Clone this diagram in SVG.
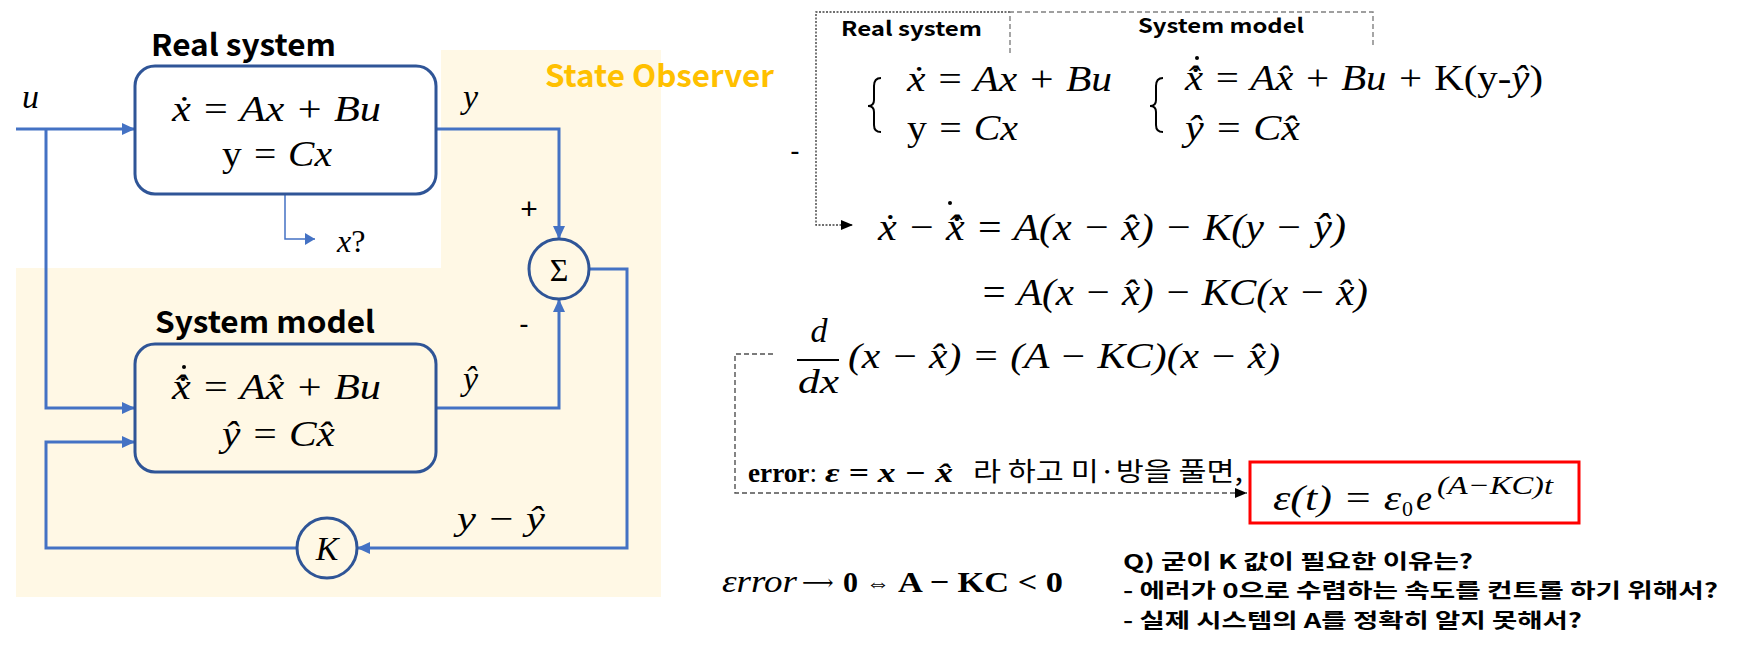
<svg xmlns="http://www.w3.org/2000/svg" width="1742" height="653" viewBox="0 0 1742 653">
<style>
.m{font-family:"Liberation Serif","DejaVu Serif",serif;font-style:italic;fill:#000}
.r{font-style:normal}
.b{font-weight:bold}
.t{font-family:"Noto Sans CJK KR","Liberation Sans",sans-serif;font-weight:bold;fill:#000}
.k{font-family:"Noto Sans CJK KR","Liberation Sans",sans-serif;fill:#000}
.s{font-family:"Liberation Sans","Noto Sans CJK KR",sans-serif;fill:#000}
.conn{stroke:#4472C4;stroke-width:3;fill:none}
.thin{stroke:#4472C4;stroke-width:1.5;fill:none}
.node{stroke:#2F5597;stroke-width:3;fill:none}
.dot{stroke:#404040;stroke-width:1.4;fill:none;stroke-dasharray:2 1.5}
.dash{stroke:#808080;stroke-width:1.4;fill:none;stroke-dasharray:5 3}
.dash2{stroke:#505050;stroke-width:1.4;fill:none;stroke-dasharray:5 3}
.brace{stroke:#000;stroke-width:2;fill:none}
</style>
<defs>
<marker id="ab" markerUnits="userSpaceOnUse" markerWidth="13" markerHeight="12" refX="13" refY="6" orient="auto"><path d="M0,0 L13,6 L0,12 Z" fill="#4472C4"/></marker>
<marker id="abs" markerUnits="userSpaceOnUse" markerWidth="10" markerHeight="12" refX="10" refY="6" orient="auto"><path d="M0,0 L10,6 L0,12 Z" fill="#4472C4"/></marker>
<marker id="ak" markerUnits="userSpaceOnUse" markerWidth="12" markerHeight="12" refX="12" refY="6" orient="auto"><path d="M0,1 L12,6 L0,11 Z" fill="#000"/></marker>
</defs>
<rect width="1742" height="653" fill="#fff"/>
<g id="observer-bg">
<rect x="441" y="50" width="220" height="218" fill="#FFF8E5"/>
<rect x="16" y="268" width="645" height="329" fill="#FFF8E5"/>
<text class="t" x="545" y="87" font-size="31" style="fill:#FFC000" textLength="229" lengthAdjust="spacingAndGlyphs">State Observer</text>
</g>
<g id="connectors">
<path class="conn" d="M16,129 H135" marker-end="url(#ab)"/>
<path class="conn" d="M46,129 V408 H135" marker-end="url(#ab)"/>
<path class="conn" d="M436,129 H559 V239" marker-end="url(#ab)"/>
<path class="conn" d="M436,408 H559 V299" marker-end="url(#ab)"/>
<path class="conn" d="M589,269 H627 V548 H357" marker-end="url(#ab)"/>
<path class="conn" d="M297,548 H46 V442 H135" marker-end="url(#ab)"/>
<path class="thin" d="M285,194 V239 H315" marker-end="url(#abs)"/>
</g>
<g id="real-system">
<text class="t" x="151" y="56" font-size="30" textLength="185" lengthAdjust="spacingAndGlyphs">Real system</text>
<rect class="node" x="135" y="66" width="301" height="128" rx="20"/>
<text class="m" x="172" y="121" font-size="36" textLength="209" lengthAdjust="spacingAndGlyphs">x&#x307; = Ax + Bu</text>
<text class="m" x="222" y="166" font-size="36" textLength="110" lengthAdjust="spacingAndGlyphs"><tspan class="r">y</tspan> = Cx</text>
</g>
<g id="system-model">
<text class="t" x="155" y="333" font-size="30" textLength="220" lengthAdjust="spacingAndGlyphs">System model</text>
<rect class="node" x="135" y="344" width="301" height="128" rx="20"/>
<text class="m" x="172" y="399" font-size="36" textLength="209" lengthAdjust="spacingAndGlyphs">x&#x302;&#x307; = Ax&#x302; + Bu</text>
<circle cx="184" cy="367" r="2" fill="#000"/>
<text class="m" x="222" y="446" font-size="36" textLength="113" lengthAdjust="spacingAndGlyphs">&#x177; = Cx&#x302;</text>
</g>
<g id="sum">
<circle class="node" cx="559" cy="269" r="30"/>
<text class="m r" x="559" y="281" font-size="32" text-anchor="middle">Σ</text>
</g>
<g id="gain-k">
<circle class="node" cx="327" cy="548" r="30"/>
<text class="m" x="327" y="560" font-size="34" text-anchor="middle">K</text>
</g>
<g id="left-labels">
<text class="m" x="22" y="108" font-size="34">u</text>
<text class="m" x="463" y="108" font-size="34">y</text>
<text class="s" x="529" y="219" font-size="30" text-anchor="middle">+</text>
<text class="s" x="524" y="333" font-size="28" text-anchor="middle">-</text>
<text class="m" x="337" y="252" font-size="32">x<tspan class="r">?</tspan></text>
<text class="m" x="463" y="390" font-size="34">&#x177;</text>
<text class="m" x="457" y="530" font-size="34" textLength="88" lengthAdjust="spacingAndGlyphs">y − &#x177;</text>
</g>
<g id="derivation">
<path class="dot" d="M1010,12 H816 V225 H853" marker-end="url(#ak)"/>
<path class="dash" d="M1010,53 V12 H1373 V48"/>
<text class="t" x="841" y="36" font-size="20" textLength="141" lengthAdjust="spacingAndGlyphs">Real system</text>
<text class="t" x="1138" y="33" font-size="20" textLength="166" lengthAdjust="spacingAndGlyphs">System model</text>
<path class="brace" d="M881,78 Q874,78 874,86 V100 Q874,106 868,106 Q874,106 874,112 V125 Q874,132 881,132"/>
<path class="brace" d="M1163,78 Q1156,78 1156,86 V100 Q1156,106 1150,106 Q1156,106 1156,112 V125 Q1156,132 1163,132"/>
<text class="m" x="907" y="91" font-size="36" textLength="205" lengthAdjust="spacingAndGlyphs">x&#x307; = Ax + Bu</text>
<text class="m" x="907" y="140" font-size="36" textLength="111" lengthAdjust="spacingAndGlyphs"><tspan class="r">y</tspan> = Cx</text>
<text class="m" x="1185" y="90" font-size="36" textLength="358" lengthAdjust="spacingAndGlyphs">x&#x302;&#x307; = Ax&#x302; + Bu + <tspan class="r">K(y-</tspan>&#x177;<tspan class="r">)</tspan></text>
<circle cx="1197" cy="58" r="2" fill="#000"/>
<text class="m" x="1185" y="140" font-size="36" textLength="115" lengthAdjust="spacingAndGlyphs">&#x177; = Cx&#x302;</text>
<text class="s" x="795" y="160" font-size="28" text-anchor="middle">-</text>
<text class="m" x="878" y="240" font-size="38" textLength="468" lengthAdjust="spacingAndGlyphs">x&#x307; − x&#x302;&#x307; = A(x − x&#x302;) − K(y − &#x177;)</text>
<circle cx="950" cy="203" r="2" fill="#000"/>
<text class="m" x="980" y="305" font-size="38" textLength="388" lengthAdjust="spacingAndGlyphs">= A(x − x&#x302;) − KC(x − x&#x302;)</text>
<text class="m" x="819" y="342" font-size="34" text-anchor="middle">d</text>
<line x1="797" y1="360" x2="839" y2="360" stroke="#000" stroke-width="2"/>
<text class="m" x="798" y="393" font-size="34" textLength="41" lengthAdjust="spacingAndGlyphs">dx</text>
<text class="m" x="848" y="368" font-size="36" textLength="432" lengthAdjust="spacingAndGlyphs">(x − x&#x302;) = (A − KC)(x − x&#x302;)</text>
<path class="dash2" d="M773,354 H735 V493 H1247" marker-end="url(#ak)"/>
<text class="m r b" x="748" y="482" font-size="28" textLength="69" lengthAdjust="spacingAndGlyphs">error<tspan font-weight="normal">:</tspan></text>
<text class="m b" x="825" y="482" font-size="28" textLength="128" lengthAdjust="spacingAndGlyphs">ε = x − x&#x302;</text>
<text class="k" x="973" y="481" font-size="26" textLength="270" lengthAdjust="spacingAndGlyphs">라 하고 미·방을 풀면,</text>
</g>
<g id="result">
<rect x="1250" y="462" width="329" height="61" fill="#fff" stroke="#FF0000" stroke-width="3"/>
<text class="m" x="1273" y="510" font-size="36" textLength="128" lengthAdjust="spacingAndGlyphs">ε(t) = ε</text>
<text class="m r" x="1402" y="516" font-size="22">0</text>
<text class="m" x="1416" y="510" font-size="36">e</text>
<text class="m" x="1437" y="494" font-size="26" textLength="116" lengthAdjust="spacingAndGlyphs">(A−KC)t</text>
</g>
<g id="condition">
<text class="m" x="722" y="592" font-size="32" textLength="75" lengthAdjust="spacingAndGlyphs">εrror</text>
<text class="m r" x="802" y="590" font-size="22">⟶<tspan class="b" x="843" y="592" font-size="30">0</tspan><tspan x="866" y="591" font-size="24">⇔</tspan></text>
<text class="m r b" x="898" y="592" font-size="30" textLength="165" lengthAdjust="spacingAndGlyphs">A − KC &lt; 0</text>
</g>
<g id="question">
<text class="t" x="1123" y="569" font-size="20" textLength="350" lengthAdjust="spacingAndGlyphs">Q) 굳이 K 값이 필요한 이유는?</text>
<text class="t" x="1123" y="598" font-size="20" textLength="595" lengthAdjust="spacingAndGlyphs">- 에러가 0으로 수렴하는 속도를 컨트롤 하기 위해서?</text>
<text class="t" x="1123" y="628" font-size="20" textLength="459" lengthAdjust="spacingAndGlyphs">- 실제 시스템의 A를 정확히 알지 못해서?</text>
</g>
</svg>
